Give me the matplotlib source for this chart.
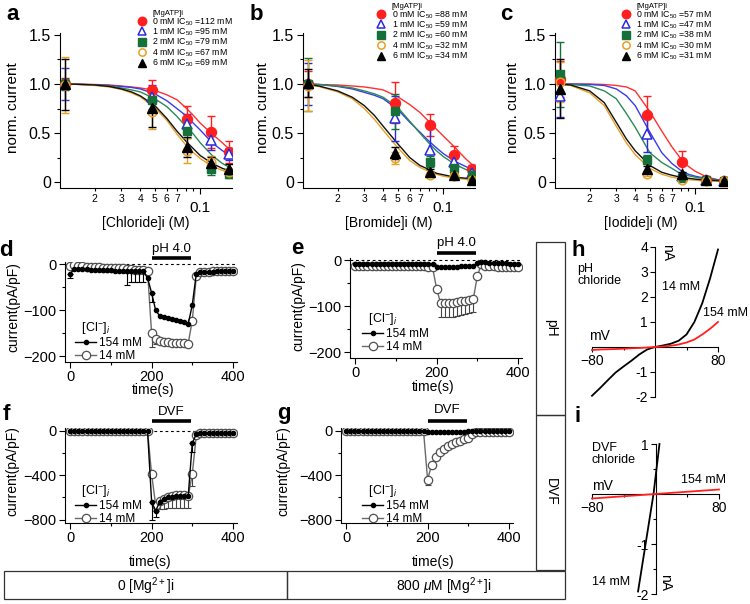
import matplotlib
matplotlib.use('Agg')
import matplotlib.pyplot as plt
from matplotlib.lines import Line2D
from matplotlib.patches import Rectangle
from matplotlib.ticker import FixedLocator, FixedFormatter

plt.rcParams['font.family'] = ['Liberation Sans', 'DejaVu Sans']
plt.rcParams['mathtext.fontset'] = 'custom'
plt.rcParams['mathtext.rm'] = 'Liberation Sans'
plt.rcParams['mathtext.it'] = 'Liberation Sans:italic'
plt.rcParams['mathtext.bf'] = 'Liberation Sans:bold'

# ---------------- data: concentration-response (a-c) ----------------
conc = [0.0128, 0.048, 0.082, 0.118, 0.154]
mgatp_labels = ['0 mM', '1 mM', '2 mM', '4 mM', '6 mM']
ic50_cl = [112, 95, 79, 67, 69]
ic50_br = [88, 59, 60, 32, 34]
ic50_io = [57, 47, 38, 30, 31]

cl_mean = [[1.0, 0.94, 0.64, 0.51, 0.305],
           [1.0, 0.87, 0.59, 0.425, 0.29],
           [1.0, 0.84, 0.525, 0.135, 0.085],
           [0.99, 0.71, 0.32, 0.21, 0.10],
           [1.0, 0.76, 0.36, 0.195, 0.135]]
cl_err = [[0.05, 0.10, 0.14, 0.16, 0.11],
          [0.16, 0.12, 0.10, 0.10, 0.06],
          [0.06, 0.10, 0.08, 0.06, 0.04],
          [0.29, 0.17, 0.13, 0.06, 0.04],
          [0.26, 0.20, 0.10, 0.06, 0.05]]
br_mean = [[1.0, 0.81, 0.58, 0.277, 0.13],
           [1.0, 0.65, 0.33, 0.21, 0.09],
           [1.0, 0.72, 0.21, 0.14, 0.075],
           [0.98, 0.245, 0.07, 0.06, 0.02],
           [1.01, 0.296, 0.10, 0.075, 0.017]]
br_err = [[0.13, 0.21, 0.11, 0.09, 0.04],
          [0.21, 0.23, 0.24, 0.05, 0.03],
          [0.27, 0.18, 0.06, 0.04, 0.03],
          [0.26, 0.06, 0.02, 0.02, 0.01],
          [0.14, 0.06, 0.03, 0.02, 0.01]]
io_mean = [[1.05, 0.68, 0.20, 0.02, 0.01],
           [0.88, 0.49, 0.06, 0.02, 0.01],
           [1.10, 0.23, 0.04, 0.02, 0.01],
           [1.02, 0.085, 0.02, 0.01, 0.01],
           [0.95, 0.135, 0.08, 0.02, 0.01]]
io_err = [[0.18, 0.20, 0.12, 0.02, 0.01],
          [0.22, 0.18, 0.03, 0.02, 0.01],
          [0.33, 0.05, 0.02, 0.01, 0.01],
          [0.20, 0.02, 0.01, 0.01, 0.01],
          [0.30, 0.03, 0.02, 0.01, 0.01]]

fit_conc = [0.012, 0.015, 0.02, 0.025, 0.03, 0.035, 0.04, 0.05, 0.06, 0.07,
            0.08, 0.09, 0.1, 0.12, 0.14, 0.16]
cl_fit = [[1.0, 0.998, 0.995, 0.99, 0.98, 0.97, 0.96, 0.935, 0.89, 0.84, 0.76, 0.68, 0.60, 0.49, 0.40, 0.32],
          [1.0, 0.998, 0.993, 0.985, 0.975, 0.965, 0.95, 0.90, 0.83, 0.75, 0.68, 0.60, 0.53, 0.40, 0.32, 0.27],
          [1.0, 0.997, 0.99, 0.98, 0.96, 0.94, 0.92, 0.85, 0.77, 0.67, 0.57, 0.49, 0.40, 0.27, 0.19, 0.14],
          [1.0, 0.997, 0.985, 0.97, 0.945, 0.91, 0.87, 0.76, 0.63, 0.49, 0.38, 0.30, 0.24, 0.16, 0.12, 0.09],
          [1.0, 0.998, 0.99, 0.975, 0.95, 0.92, 0.88, 0.78, 0.65, 0.52, 0.42, 0.34, 0.27, 0.19, 0.14, 0.11]]
br_fit = [[1.0, 0.995, 0.99, 0.98, 0.97, 0.955, 0.94, 0.87, 0.79, 0.71, 0.62, 0.54, 0.47, 0.35, 0.24, 0.16],
          [1.0, 0.995, 0.975, 0.95, 0.915, 0.885, 0.85, 0.74, 0.61, 0.51, 0.42, 0.35, 0.29, 0.21, 0.16, 0.12],
          [1.0, 0.995, 0.98, 0.96, 0.93, 0.90, 0.865, 0.76, 0.62, 0.50, 0.40, 0.32, 0.26, 0.18, 0.13, 0.10],
          [1.0, 0.975, 0.92, 0.85, 0.75, 0.64, 0.53, 0.35, 0.22, 0.15, 0.11, 0.08, 0.06, 0.04, 0.03, 0.02],
          [1.0, 0.98, 0.93, 0.865, 0.78, 0.68, 0.57, 0.39, 0.25, 0.17, 0.13, 0.09, 0.075, 0.05, 0.04, 0.03]]
io_fit = [[1.0, 1.0, 1.0, 0.995, 0.985, 0.97, 0.93, 0.72, 0.52, 0.36, 0.24, 0.16, 0.11, 0.05, 0.025, 0.015],
          [1.0, 1.0, 0.995, 0.985, 0.95, 0.88, 0.78, 0.51, 0.30, 0.19, 0.12, 0.08, 0.06, 0.035, 0.025, 0.02],
          [1.0, 0.995, 0.98, 0.93, 0.85, 0.70, 0.56, 0.30, 0.20, 0.14, 0.085, 0.065, 0.05, 0.03, 0.02, 0.015],
          [1.0, 0.985, 0.91, 0.78, 0.57, 0.40, 0.28, 0.14, 0.08, 0.05, 0.035, 0.025, 0.02, 0.01, 0.01, 0.01],
          [1.0, 0.99, 0.93, 0.81, 0.61, 0.44, 0.32, 0.17, 0.10, 0.07, 0.05, 0.04, 0.03, 0.02, 0.015, 0.01]]

# ---------------- data: time courses (d-g) ----------------
time_s = [0, 10, 20, 30, 40, 50, 60, 70, 80, 90, 100, 110, 120, 130, 140, 150, 160, 170, 180, 190,
          200, 210, 220, 230, 240, 250, 260, 270, 280, 290, 300, 310, 320, 330, 340, 350, 360, 370,
          380, 390, 400]
d_154 = [-20, -10, -10, -11, -11, -12, -12, -12, -13, -13, -13, -14, -14, -14, -15, -15, -15, -15, -15, -30,
         -62, -100, -112, -114, -116, -118, -120, -123, -126, -130, -88, -20, -17, -16, -16, -16, -15, -15,
         -15, -15, -15]
d_154_err = [10, 0, 0, 0, 0, 0, 0, 0, 0, 0, 0, 0, 0, 0, 30, 24, 24, 24, 24, 0,
             20, 0, 0, 0, 0, 0, 0, 0, 0, 0, 0, 0, 0, 0, 0, 0, 0, 0, 0, 0, 0]
d_14 = [-3, -2, -3, -4, -5, -5, -6, -6, -7, -7, -8, -8, -9, -9, -10, -11, -12, -12, -13, -15,
        -150, -162, -166, -168, -169, -170, -170, -171, -171, -172, -122, -25, -17, -16, -16, -15, -15, -15,
        -15, -15, -15]
d_14_err = [0, 0, 0, 0, 0, 0, 0, 0, 0, 0, 0, 0, 0, 0, 0, 0, 0, 0, 0, 0,
            30, 12, 0, 0, 0, 0, 0, 0, 0, 0, 0, 0, 0, 0, 0, 0, 0, 0, 0, 0, 0]
e_154 = [-7, -8, -8, -8, -8, -8, -8, -8, -8, -8, -8, -8, -8, -8, -8, -8, -8, -8, -8, -8,
         -14, -15, -15, -14, -14, -14, -13, -13, -13, -13, -5, -4, -4, -5, -5, -6, -6, -6,
         -7, -7, -8]
e_154_err = [0] * 41
e_14 = [-12, -12, -13, -12, -13, -13, -12, -13, -13, -12, -13, -13, -13, -12, -13, -13, -13, -13, -14, -15,
        -62, -93, -93, -92, -92, -91, -89, -88, -86, -85, -35, -8, -12, -13, -13, -14, -14, -14,
        -14, -14, -14]
e_14_err = [0, 0, 0, 0, 0, 0, 0, 0, 0, 0, 0, 0, 0, 0, 0, 0, 0, 0, 0, 0,
            0, 31, 30, 30, 30, 29, 29, 28, 28, 28, 0, 0, 0, 0, 0, 0, 0, 0, 0, 0, 0]
f_154 = [0, 0, 0, 0, 0, 0, 0, 0, 0, 0, 0, 0, 0, 0, 0, 0, 0, 0, 0, 0,
         -640, -720, -640, -610, -600, -595, -590, -590, -590, -590, -110, -30, -20, -20, -20, -20, -20, -20,
         -20, -20, -20]
f_154_err = [0, 0, 0, 0, 0, 0, 0, 0, 0, 0, 0, 0, 0, 0, 0, 0, 0, 0, 0, 0,
             160, 60, 0, 0, 0, 0, 0, 0, 0, 0, 80, 0, 0, 0, 0, 0, 0, 0, 0, 0, 0]
f_14 = [0, 0, 0, 0, 0, 0, 0, 0, 0, 0, 0, 0, 0, 0, 0, 0, 0, 0, 0, 0,
        -390, -670, -630, -610, -595, -585, -580, -580, -580, -590, -390, -40, -20, -20, -20, -20, -20, -20,
        -20, -20, -20]
f_14_err = [0, 0, 0, 0, 0, 0, 0, 0, 0, 0, 0, 0, 0, 0, 0, 0, 0, 0, 0, 0,
            0, 40, 70, 90, 100, 110, 115, 115, 115, 105, 110, 0, 0, 0, 0, 0, 0, 0, 0, 0, 0]
g_154 = [-5, -5, -5, -5, -5, -5, -5, -5, -5, -5, -5, -5, -5, -5, -5, -5, -5, -5, -5, -5,
         -15, -15, -15, -15, -15, -15, -15, -15, -15, -15, -5, -5, -5, -5, -5, -5, -5, -5,
         -5, -5, -5]
g_154_err = [0] * 41
g_14 = [-5, -5, -5, -5, -5, -5, -5, -5, -5, -5, -5, -5, -5, -5, -5, -5, -5, -5, -5, -5,
        -440, -305, -235, -190, -160, -135, -117, -100, -90, -75, -65, -25, -10, -8, -8, -8, -8, -8,
        -8, -8, -8]
g_14_err = [0, 0, 0, 0, 0, 0, 0, 0, 0, 0, 0, 0, 0, 0, 0, 0, 0, 0, 0, 0,
            50, 0, 0, 0, 0, 0, 0, 0, 0, 0, 0, 0, 0, 0, 0, 0, 0, 0, 0, 0, 0]

# ---------------- data: I-V (h, i) ----------------
h_mv = [-80, -70, -60, -50, -40, -30, -20, -10, 0, 10, 20, 30, 40, 50, 60, 70, 80]
h_14 = [-1.95, -1.65, -1.33, -1.02, -0.78, -0.55, -0.3, -0.1, 0.0, 0.06, 0.13, 0.25, 0.5, 1.0, 1.75, 2.75, 3.9]
h_154 = [-0.12, -0.1, -0.09, -0.08, -0.07, -0.05, -0.04, -0.02, 0.0, 0.02, 0.05, 0.1, 0.18, 0.3, 0.5, 0.73, 1.0]
i_mv_14 = [-22, -12, -2.5, 5]
i_14 = [-1.95, -0.95, 0.0, 1.0]
i_mv_154 = [-80, 0, 80]
i_154 = [-0.09, 0.0, 0.09]

# ---------------- figure ----------------
W, H = 750, 604
fig = plt.figure(figsize=(7.5, 6.04), dpi=100)
fig.patch.set_facecolor('white')


def rect(l, t, r, b):
    return [l / W, 1 - b / H, (r - l) / W, (b - t) / H]


def fx(x):
    return x / W


def fy(y):
    return 1 - y / H


colors = ['#ff1f1f', '#2a2ae0', '#16703a', '#e8a024', '#000000']
fit_colors = ['#ff3030', '#3a3aee', '#2a8a55', '#e8a024', '#111111']
styles = [dict(marker='o', mfc=colors[0], mec=colors[0], ms=7.2, mew=1),
          dict(marker='^', mfc='white', mec=colors[1], ms=7, mew=1.1),
          dict(marker='s', mfc=colors[2], mec=colors[2], ms=6.2, mew=1),
          dict(marker='o', mfc='none', mec=colors[3], ms=6.2, mew=1.1),
          dict(marker='^', mfc='k', mec='k', ms=6.8, mew=1)]


def dose_panel(ax, means, errs, fits, ic50s, xlabel, ylab_x, leg_left, leg_top):
    ax.set_xscale('log')
    ax.set_xlim(0.0118, 0.162)
    ax.set_ylim(-0.06, 1.52)
    for k in range(5):
        ax.plot(fit_conc, fits[k], color=fit_colors[k], lw=1.0, zorder=2)
    handles = []
    for k in range(5):
        ax.errorbar(conc, means[k], yerr=errs[k], fmt='none', ecolor=colors[k],
                    elinewidth=1, capsize=3, capthick=1, zorder=3 + k * 0.1)
        h, = ax.plot(conc, means[k], linestyle='none', zorder=4 + k * 0.1, **styles[k])
        handles.append(h)
    for s in ['top', 'right']:
        ax.spines[s].set_visible(False)
    ax.yaxis.set_major_locator(FixedLocator([0, 0.5, 1.0, 1.5]))
    ax.yaxis.set_major_formatter(FixedFormatter(['0', '0.5', '1.0', '1.5']))
    ax.yaxis.set_minor_locator(FixedLocator([0.25, 0.75, 1.25]))
    ax.xaxis.set_major_locator(FixedLocator([0.1]))
    ax.xaxis.set_major_formatter(FixedFormatter(['0.1']))
    ax.xaxis.set_minor_locator(FixedLocator([0.02, 0.03, 0.04, 0.05, 0.06, 0.07, 0.08, 0.09]))
    ax.xaxis.set_minor_formatter(FixedFormatter(['2', '3', '4', '5', '6', '7', '', '']))
    ax.tick_params(axis='both', which='major', direction='out', length=4.5, width=0.8)
    ax.tick_params(axis='y', which='major', labelsize=11.5, pad=2)
    ax.tick_params(axis='x', which='major', labelsize=11, pad=5)
    ax.tick_params(axis='both', which='minor', direction='out', length=2.5, width=0.8)
    ax.tick_params(axis='x', which='minor', labelsize=7.5, pad=2)
    for s in ['left', 'bottom']:
        ax.spines[s].set_linewidth(0.8)
    ax.set_ylabel('norm. current', fontsize=11, va='center')
    ax.yaxis.set_label_coords(ylab_x, 0.52)
    ax.set_xlabel(xlabel, fontsize=10, va='center')
    ax.xaxis.set_label_coords(0.5, -0.226)
    header = Line2D([], [], linestyle='none')
    labels = ['[MgATP]i'] + ['%s IC$_{50}$ =%d mM' % (m, v) for m, v in zip(mgatp_labels, ic50s)]
    leg = ax.legend([header] + handles, labels, loc='upper left',
                    bbox_to_anchor=(fx(leg_left), fy(leg_top)), bbox_transform=fig.transFigure,
                    frameon=False, fontsize=6.3, handlelength=0.8, handletextpad=0.8,
                    labelspacing=-0.12, borderpad=0, borderaxespad=0, markerscale=0.85)
    leg.get_texts()[0].set_fontsize(5.5)


ax_a = fig.add_axes(rect(60, 33, 232, 188))
dose_panel(ax_a, cl_mean, cl_err, cl_fit, ic50_cl, '[Chloride]i (M)', -0.273, 138.5, 9)
ax_b = fig.add_axes(rect(303, 33, 475, 188))
dose_panel(ax_b, br_mean, br_err, br_fit, ic50_br, '[Bromide]i (M)', -0.233, 377.5, 2)
ax_c = fig.add_axes(rect(555, 33, 727, 188))
dose_panel(ax_c, io_mean, io_err, io_fit, ic50_io, '[Iodide]i (M)', -0.244, 622.5, 2)


def time_panel(ax, s154, e154, s14, e14, ylim, ymaj, ymin_, bar_text, bar_y, text_y,
               leg_left, leg_top, ylab_xy, xlab_xy):
    ax.set_xlim(-13, 410)
    ax.set_ylim(*ylim)
    ax.axhline(0, color='k', lw=0.8, ls=(0, (2.5, 2.5)), zorder=1)
    idx = [i for i, e in enumerate(e14) if e > 0]
    if idx:
        ax.errorbar([time_s[i] for i in idx], [s14[i] for i in idx],
                    yerr=[[e14[i] for i in idx], [0] * len(idx)], fmt='none', ecolor='#444',
                    elinewidth=0.8, capsize=2.2, capthick=0.8, zorder=2)
    l14, = ax.plot(time_s, s14, '-o', color='#6a6a6a', lw=1, mfc='white', mec='#505050',
                   ms=6, mew=0.9, zorder=3)
    idx = [i for i, e in enumerate(e154) if e > 0]
    if idx:
        ax.errorbar([time_s[i] for i in idx], [s154[i] for i in idx],
                    yerr=[[e154[i] for i in idx], [0] * len(idx)], fmt='none', ecolor='k',
                    elinewidth=0.8, capsize=2.2, capthick=0.8, zorder=4)
    l154, = ax.plot(time_s, s154, '-o', color='k', lw=1, ms=3, zorder=5)
    for s in ['top', 'right']:
        ax.spines[s].set_visible(False)
    for s in ['left', 'bottom']:
        ax.spines[s].set_linewidth(0.8)
    ax.xaxis.set_major_locator(FixedLocator([0, 200, 400]))
    ax.xaxis.set_minor_locator(FixedLocator([100, 300]))
    ax.yaxis.set_major_locator(FixedLocator(ymaj))
    ax.yaxis.set_minor_locator(FixedLocator(ymin_))
    ax.tick_params(which='major', direction='out', length=4, width=0.8, labelsize=10.5, pad=2)
    ax.tick_params(which='minor', direction='out', length=2.5, width=0.8)
    ax.set_ylabel('current(pA/pF)', fontsize=10, va='center')
    ax.yaxis.set_label_coords(*ylab_xy)
    ax.set_xlabel('time(s)', fontsize=10, va='center')
    ax.xaxis.set_label_coords(*xlab_xy)
    ax.plot([200, 297], [bar_y, bar_y], color='k', lw=2.6, solid_capstyle='butt', clip_on=False)
    ax.text(248, text_y, bar_text, ha='center', va='center', fontsize=9.5, clip_on=False)
    ax.legend([l154, l14], ['154 mM', '14 mM'], title='  [Cl$^{-}$]$_{i}$', alignment='left',
              loc='upper left', bbox_to_anchor=(fx(leg_left), fy(leg_top)),
              bbox_transform=fig.transFigure, frameon=False, fontsize=8.5, title_fontsize=9,
              handlelength=1.8, handletextpad=0.2, labelspacing=0.1, borderpad=0,
              borderaxespad=0)


ax_d = fig.add_axes(rect(65, 262, 237, 362))
time_panel(ax_d, d_154, d_154_err, d_14, d_14_err, (-212, 5), [-200, -100, 0], [-150, -50],
           'pH 4.0', 13, 34, 75, 320, (-0.302, 0.55), (0.51, -0.28))
ax_e = fig.add_axes(rect(350, 258, 522, 358))
time_panel(ax_e, e_154, e_154_err, e_14, e_14_err, (-212, 5), [-200, -100, 0], [-150, -50],
           'pH 4.0', 15, 37, 362, 311, (-0.302, 0.52), (0.485, -0.29))
ax_f = fig.add_axes(rect(65, 428, 237, 523))
time_panel(ax_f, f_154, f_154_err, f_14, f_14_err, (-830, 25), [-800, -400, 0], [-600, -200],
           'DVF', 90, 171, 75, 483, (-0.308, 0.55), (0.494, -0.41))
ax_g = fig.add_axes(rect(341, 428, 513, 523))
time_panel(ax_g, g_154, g_154_err, g_14, g_14_err, (-830, 25), [-800, -400, 0], [-600, -200],
           'DVF', 90, 189, 362, 483, (-0.337, 0.55), (0.538, -0.41))


def iv_panel(ax, ylim, ymaj, ymin_, ylabels):
    ax.set_xlim(-80, 80)
    ax.set_ylim(*ylim)
    ax.spines['left'].set_position(('data', 0))
    ax.spines['bottom'].set_position(('data', 0))
    for s in ['top', 'right']:
        ax.spines[s].set_visible(False)
    for s in ['left', 'bottom']:
        ax.spines[s].set_linewidth(0.8)
    ax.patch.set_visible(False)
    ax.xaxis.set_major_locator(FixedLocator([-80, 80]))
    ax.xaxis.set_minor_locator(FixedLocator([-40, 40]))
    ax.yaxis.set_major_locator(FixedLocator(ymaj))
    ax.yaxis.set_major_formatter(FixedFormatter(ylabels))
    ax.yaxis.set_minor_locator(FixedLocator(ymin_))
    ax.tick_params(which='major', direction='out', length=3.5, width=0.8, labelsize=10, pad=1.5)
    ax.tick_params(which='minor', direction='out', length=2, width=0.8)


ax_h = fig.add_axes(rect(592, 247, 718, 397))
iv_panel(ax_h, (-2, 4), [-2, -1, 1, 2, 3, 4], [], ['-2', '-1', '1', '2', '3', '4'])
ax_h.plot(h_mv, h_14, color='k', lw=1.3, zorder=3, clip_on=False)
ax_h.plot(h_mv, h_154, color='#ff1f1f', lw=1.3, zorder=4, clip_on=False)
ax_h.text(-99, 3.36, 'pH\nchloride', fontsize=9, ha='left', va='top', linespacing=0.95)
ax_h.text(9, 2.4, '14 mM', fontsize=9, ha='left', va='center')
ax_h.text(61, 1.36, '154 mM', fontsize=9, ha='left', va='center', clip_on=False)
ax_h.text(-84, 0.45, 'mV', fontsize=10, ha='left', va='center')
ax_h.text(15, 3.76, 'nA', fontsize=10, ha='center', va='center', rotation=-90)

ax_i = fig.add_axes(rect(592, 444, 719, 594))
iv_panel(ax_i, (-2, 1), [-2, -1, 1], [-1.5, -0.5, 0.5], ['-2', '-1', '1'])
ax_i.plot(i_mv_14, i_14, color='k', lw=1.3, zorder=3, clip_on=False)
ax_i.plot(i_mv_154, i_154, color='#ff1f1f', lw=1.3, zorder=4, clip_on=False)
ax_i.text(-80, 1.04, 'DVF\nchloride', fontsize=9, ha='left', va='top', linespacing=0.95)
ax_i.text(32, 0.28, '154 mM', fontsize=9, ha='left', va='center')
ax_i.text(-80, 0.17, 'mV', fontsize=10, ha='left', va='center')
ax_i.text(-80, -1.76, '14 mM', fontsize=9, ha='left', va='center')
ax_i.text(12, -1.76, 'nA', fontsize=10, ha='center', va='center', rotation=-90)

# ---------------- panel letters ----------------
for letter, x, y in [('a', 13, 14), ('b', 256, 14), ('c', 506, 14), ('d', 6, 250),
                     ('e', 297, 248), ('f', 6, 414), ('g', 284, 414), ('h', 578, 251),
                     ('i', 578, 417)]:
    fig.text(fx(x), fy(y), letter, fontsize=16, fontweight='bold', ha='center', va='center')

# ---------------- condition boxes ----------------
box_kw = dict(fill=False, lw=0.9, edgecolor='#333333', transform=fig.transFigure)
for l, t, r, b in [(536, 242, 565, 415), (536, 415, 565, 570), (4, 571, 287, 599), (287, 571, 565, 599)]:
    fig.add_artist(Rectangle((fx(l), fy(b)), (r - l) / W, (b - t) / H, **box_kw))
fig.text(fx(551), fy(328), 'pH', rotation=-90, ha='center', va='center', fontsize=10)
fig.text(fx(551), fy(492), 'DVF', rotation=-90, ha='center', va='center', fontsize=10)
fig.text(fx(146), fy(586), '0 [Mg$^{2+}$]i', ha='center', va='center', fontsize=10)
fig.text(fx(444), fy(586), '800 $\\mu$M [Mg$^{2+}$]i', ha='center', va='center', fontsize=10)

fig.savefig('out.png', dpi=100)
